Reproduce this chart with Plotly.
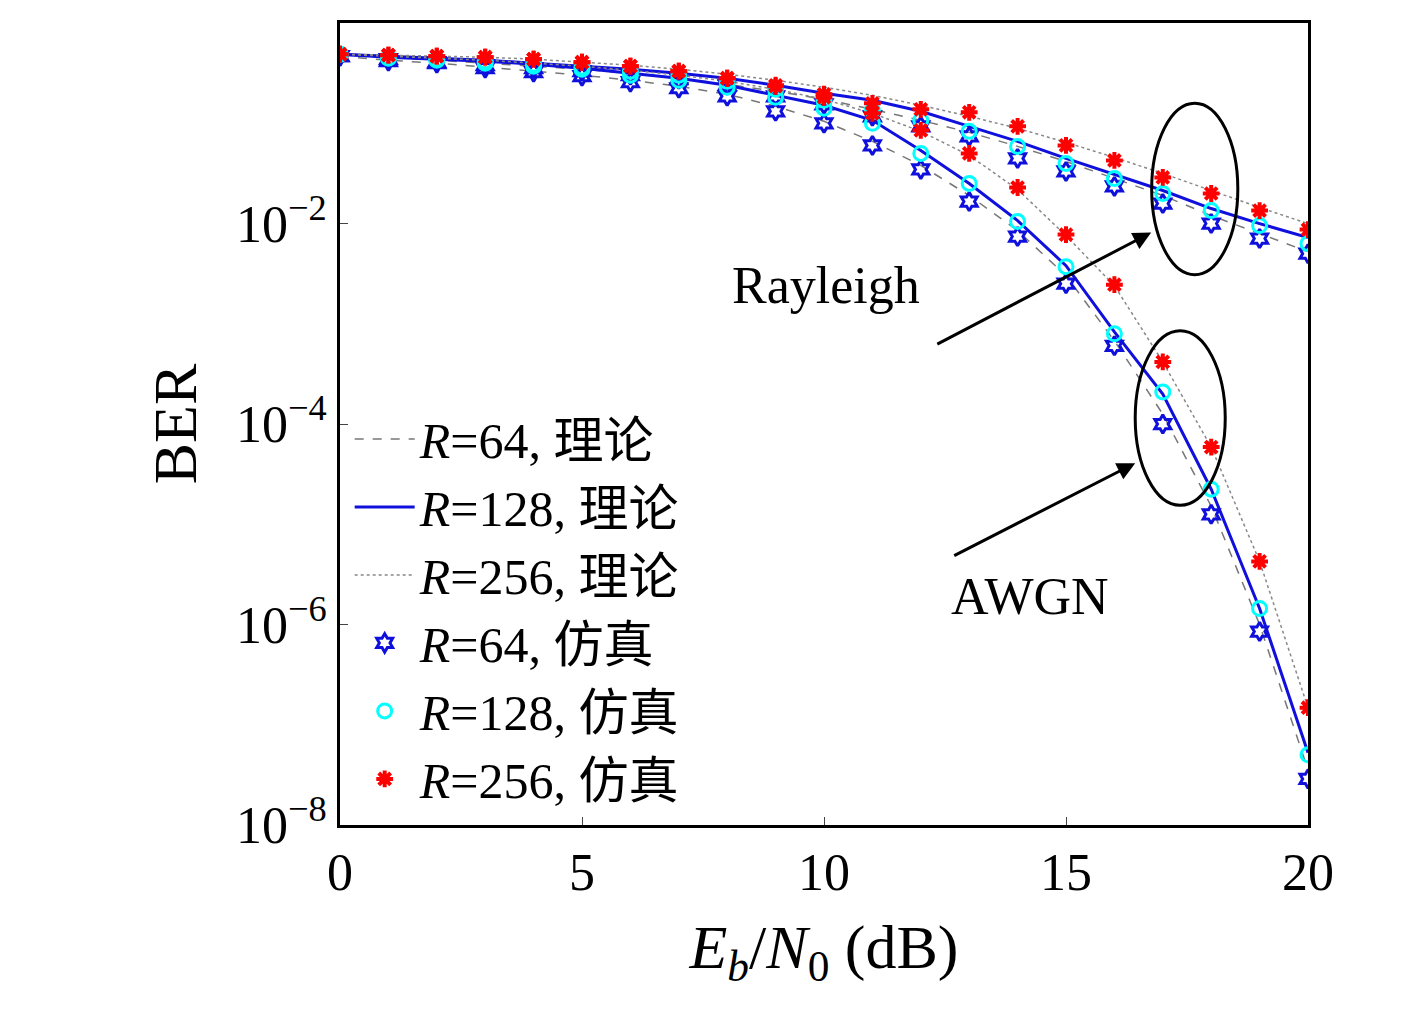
import plotly.graph_objects as go

snr = list(range(0, 21))
# log10(BER)
awgn64_th = [-0.33,-0.37,-0.40,-0.44,-0.48,-0.52,-0.57,-0.63,-0.71,-0.83,-0.98,-1.18,-1.42,-1.72,-2.07,-2.52,-3.17,-3.9,-4.82,-6.0,-7.45]
awgn128_th = [-0.31,-0.34,-0.36,-0.38,-0.41,-0.45,-0.50,-0.55,-0.62,-0.72,-0.82,-0.97,-1.27,-1.6,-1.97,-2.42,-3.08,-3.7,-4.65,-5.84,-7.28]
awgn256_th = [-0.31,-0.33,-0.35,-0.37,-0.40,-0.43,-0.47,-0.52,-0.58,-0.66,-0.76,-0.9,-1.08,-1.32,-1.66,-2.12,-2.62,-3.38,-4.23,-5.37,-6.83]
ray64_th = [-0.31,-0.34,-0.37,-0.40,-0.43,-0.46,-0.50,-0.55,-0.61,-0.68,-0.76,-0.86,-0.97,-1.09,-1.23,-1.38,-1.55,-1.72,-1.92,-2.1,-2.28]
ray128_th = [-0.31,-0.33,-0.35,-0.37,-0.40,-0.43,-0.46,-0.50,-0.55,-0.62,-0.70,-0.77,-0.88,-1.03,-1.18,-1.35,-1.51,-1.67,-1.85,-2.0,-2.14]
ray256_th = [-0.31,-0.32,-0.33,-0.34,-0.36,-0.39,-0.42,-0.46,-0.51,-0.57,-0.64,-0.72,-0.82,-0.93,-1.05,-1.19,-1.34,-1.50,-1.67,-1.84,-2.0]

awgn64_sim = [-0.33,-0.38,-0.40,-0.45,-0.49,-0.53,-0.59,-0.65,-0.73,-0.88,-1.0,-1.22,-1.46,-1.78,-2.13,-2.6,-3.22,-4.0,-4.9,-6.07,-7.54]
awgn128_sim = [-0.31,-0.35,-0.37,-0.40,-0.43,-0.46,-0.52,-0.57,-0.64,-0.74,-0.85,-1.0,-1.3,-1.6,-1.98,-2.43,-3.1,-3.68,-4.65,-5.84,-7.3]
awgn256_sim = [-0.31,-0.32,-0.33,-0.34,-0.36,-0.39,-0.43,-0.48,-0.55,-0.63,-0.74,-0.9,-1.07,-1.3,-1.64,-2.11,-2.61,-3.38,-4.23,-5.37,-6.83]
ray64_sim = [-0.33,-0.36,-0.39,-0.42,-0.45,-0.48,-0.52,-0.56,-0.62,-0.73,-0.81,-0.93,-1.03,-1.13,-1.35,-1.48,-1.63,-1.8,-2.0,-2.15,-2.3]
ray128_sim = [-0.31,-0.34,-0.36,-0.38,-0.41,-0.44,-0.48,-0.52,-0.58,-0.66,-0.77,-0.87,-0.97,-1.08,-1.23,-1.4,-1.55,-1.7,-1.87,-2.02,-2.2]
ray256_sim = [-0.31,-0.32,-0.33,-0.34,-0.36,-0.39,-0.43,-0.48,-0.55,-0.62,-0.71,-0.80,-0.86,-0.89,-1.03,-1.22,-1.37,-1.54,-1.7,-1.87,-2.06]

names_th = ["<i>R</i>=64, 理论", "<i>R</i>=128, 理论", "<i>R</i>=256, 理论"]
names_sim = ["<i>R</i>=64, 仿真", "<i>R</i>=128, 仿真", "<i>R</i>=256, 仿真"]

p = lambda v: [10 ** e for e in v]
fig = go.Figure()
styles = [dict(color="#777777", width=1.5, dash="dash"), dict(color="#1010dd", width=3), dict(color="#888888", width=1.5, dash="dot")]
for i, (a, r) in enumerate([(awgn64_th, ray64_th), (awgn128_th, ray128_th), (awgn256_th, ray256_th)]):
    fig.add_trace(go.Scatter(x=snr, y=p(a), mode="lines", line=styles[i], name=names_th[i], legendgroup=str(i)))
    fig.add_trace(go.Scatter(x=snr, y=p(r), mode="lines", line=styles[i], showlegend=False, legendgroup=str(i)))
mk = [dict(symbol="hexagram-open", color="#1010dd", size=14, line=dict(width=3, color="#1010dd")),
      dict(symbol="circle-open", color="cyan", size=14, line=dict(width=3, color="cyan")),
      dict(symbol="asterisk-open", color="red", size=14, line=dict(width=4, color="red"))]
for i, (a, r) in enumerate([(awgn64_sim, ray64_sim), (awgn128_sim, ray128_sim), (awgn256_sim, ray256_sim)]):
    fig.add_trace(go.Scatter(x=snr + snr, y=p(a) + p(r), mode="markers", marker=mk[i], name=names_sim[i]))

fig.add_shape(type="circle", xref="x", yref="y", x0=16.77, x1=18.55, y0=10 ** -2.51, y1=10 ** -0.8,
              line=dict(color="black", width=3))
fig.add_shape(type="circle", xref="x", yref="y", x0=16.43, x1=18.29, y0=10 ** -4.81, y1=10 ** -3.07,
              line=dict(color="black", width=3))
for (tx, ty, hx, hy) in [(12.31, -3.21, 16.76, -2.09), (12.66, -5.32, 16.43, -4.39)]:
    fig.add_annotation(x=hx, y=hy, ax=tx, ay=ty, xref="x", yref="y", axref="x", ayref="y",
                       showarrow=True, arrowhead=2, arrowsize=1.2, arrowwidth=3, arrowcolor="black", text="")
fig.add_annotation(x=10.04, y=-2.62, text="Rayleigh", showarrow=False, font=dict(size=52))
fig.add_annotation(x=14.26, y=-5.72, text="AWGN", showarrow=False, font=dict(size=52))

fig.update_layout(
    width=1417, height=1032, plot_bgcolor="white", paper_bgcolor="white",
    margin=dict(l=332, r=117, t=15, b=215),
    font=dict(family="Liberation Serif, Noto Sans CJK SC", size=52, color="black"),
    legend=dict(x=0.01, y=0.53, xanchor="left", yanchor="top", bgcolor="rgba(0,0,0,0)",
                font=dict(size=50), tracegroupgap=0, itemwidth=60),
)
fig.update_xaxes(range=[0, 20], tickvals=[0, 5, 10, 15, 20], showgrid=False, zeroline=False,
                 showline=True, mirror=True, linecolor="black", linewidth=3, ticks="inside", ticklen=8,
                 title=dict(text="<i>E<sub>b</sub></i>/<i>N</i><sub>0</sub> (dB)", standoff=25))
fig.update_yaxes(type="log", range=[-8, 0.001], tickvals=[1, 1e-2, 1e-4, 1e-6, 1e-8],
                 ticktext=["10<sup>0</sup>", "10<sup>−2</sup>", "10<sup>−4</sup>", "10<sup>−6</sup>", "10<sup>−8</sup>"],
                 showgrid=False, zeroline=False, showline=True, mirror=True, linecolor="black", linewidth=3,
                 ticks="inside", ticklen=8, title=dict(text="BER", standoff=20))
fig.write_html("out.html")
